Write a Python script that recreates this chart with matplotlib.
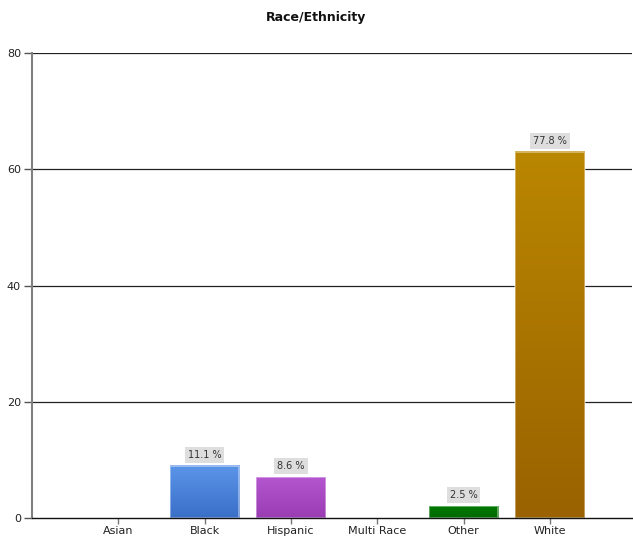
import matplotlib
matplotlib.use("Agg")
import matplotlib.pyplot as plt
import numpy as np
from matplotlib.colors import LinearSegmentedColormap

categories = ["Asian", "Black", "Hispanic", "Multi Race", "Other", "White"]
counts = [0, 9, 7, 0, 2, 63]
labels = ["", "11.1 %", "8.6 %", "", "2.5 %", "77.8 %"]
top_colors = ["#5b8fe0", "#5b95e8", "#b456cf", "#888888", "#007a00", "#ba8700"]
bot_colors = ["#3a6fc8", "#3a6fc8", "#9a3cb2", "#888888", "#006800", "#9a6200"]
yticks = [0, 20, 40, 60, 80]

fig = plt.figure(figsize=(6.33, 5.39), dpi=100)
ax = fig.add_axes([32/633, 1-518/539, 600/633, (518-53)/539])
ax.set_xlim(0, 6.95)
ax.set_ylim(0, 80)

x = np.arange(1, len(categories)+1)
width = 0.8
grad = np.linspace(0, 1, 256).reshape(-1, 1)
for xi, c, lab, tc, bc in zip(x, counts, labels, top_colors, bot_colors):
    if c <= 0:
        continue
    cmap = LinearSegmentedColormap.from_list("g", [bc, tc])
    bar = ax.bar(xi, c, width=width, facecolor="none", edgecolor="none",
                 zorder=4)[0]
    im = ax.imshow(grad, extent=[xi-width/2, xi+width/2, 0, c], origin="lower",
                   aspect="auto", cmap=cmap, zorder=3, interpolation="bilinear")
    ax.bar(xi, c, width=width, facecolor="none", edgecolor="white",
           alpha=0.45, linewidth=1.2, zorder=4)
    ax.text(xi, c + 1.9, lab, ha="center", va="center", fontsize=7,
            color="#333333", zorder=5,
            bbox=dict(boxstyle="square,pad=0.3", facecolor="#dedede",
                      edgecolor="none"))
ax.set_xlim(0, 6.95)
ax.set_ylim(0, 80)

for y in yticks[1:]:
    ax.axhline(y, color="#222222", linewidth=0.9, zorder=1)

ax.set_xticks(x)
ax.set_xticklabels(categories, fontsize=8, color="#222222")
ax.set_yticks(yticks)
ax.set_yticklabels([str(v) for v in yticks], fontsize=8, color="#222222")
ax.tick_params(axis="x", length=4, color="#777777", width=1, pad=2)
ax.tick_params(axis="y", length=6, color="#555555", width=1, pad=2)

for s in ["top", "right"]:
    ax.spines[s].set_visible(False)
ax.spines["left"].set_color("#808080")
ax.spines["left"].set_linewidth(1.5)
ax.spines["bottom"].set_color("#111111")
ax.spines["bottom"].set_linewidth(1.0)
ax.spines["bottom"].set_zorder(6)

fig.text(0.5, 1-18/539, "Race/Ethnicity", ha="center", va="center",
         fontsize=9, fontweight="bold", color="#111111")

fig.savefig("out.png", dpi=100)
